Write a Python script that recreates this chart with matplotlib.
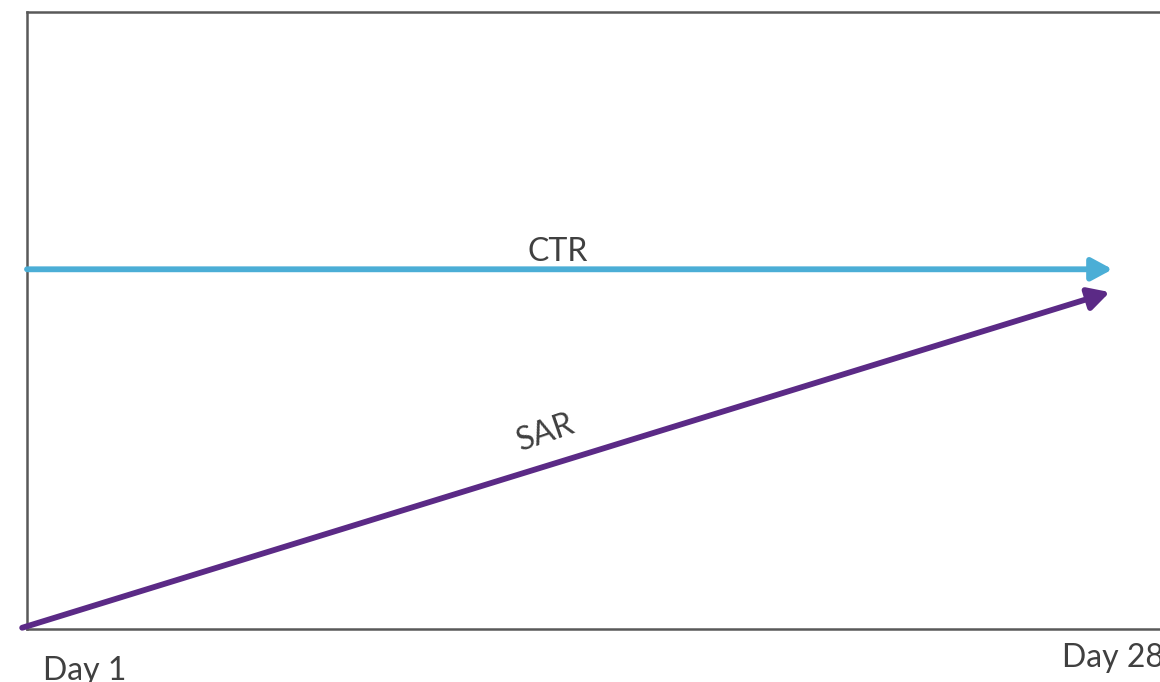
import matplotlib as mpl
mpl.rcParams['font.family'] = ['Lato', 'DejaVu Sans']
import matplotlib.pyplot as plt
import matplotlib.patheffects as pe

# data: two trend arrows over the 28 days
days        = [1, 28]
day_labels  = ['Day 1', 'Day 28']
ctr         = [0.583, 0.583]
sar_days    = [0.88, 27.93]
sar         = [0.002, 0.546]

CTR_COL  = '#4BAED6'
SAR_COL  = '#5B2A86'
TXT_COL  = '#404040'
SPINE    = '#595959'

fig = plt.figure(figsize=(11.6, 6.82), dpi=100)
# axes run past the right edge, like the cropped slide
ax = fig.add_axes([27/1160, 53/682, 1166/1160, 617/682])
ax.set_xlim(1, 30)
ax.set_ylim(0, 1)
ax.set_xticks([])
ax.set_yticks([])
ax.spines['right'].set_visible(False)
for s in ['left', 'top', 'bottom']:
    ax.spines[s].set_color(SPINE)
    ax.spines[s].set_linewidth(1.8)
    ax.spines[s].set_path_effects([
        pe.SimplePatchShadow(offset=(2, -4), shadow_rgbFace='#d4d4d4', alpha=0.5),
        pe.SimplePatchShadow(offset=(1.5, -2.5), shadow_rgbFace='#bdbdbd', alpha=0.7),
        pe.Normal()])

arrow_kw = dict(arrowstyle='-|>,head_length=0.5,head_width=0.27', lw=4.2,
                mutation_scale=25, shrinkA=0, shrinkB=0)
ax.annotate('', xy=(days[1], ctr[1]), xytext=(days[0], ctr[0]),
            arrowprops=dict(color=CTR_COL, **arrow_kw), annotation_clip=False)
ax.annotate('', xy=(sar_days[1], sar[1]), xytext=(sar_days[0], sar[0]),
            arrowprops=dict(color=SAR_COL, **arrow_kw), annotation_clip=False)

ax.text(14.2, ctr[0] + 0.004, 'CTR', fontsize=23, color=TXT_COL, ha='center', va='bottom')
ax.text(13.9, 0.318, 'SAR', fontsize=23, color=TXT_COL, ha='center', va='center', rotation=19)

ax.text(2.43, -0.044, day_labels[0], fontsize=23, color=TXT_COL, ha='center', va='top', clip_on=False)
ax.text(28.0, -0.022, day_labels[1], fontsize=23, color=TXT_COL, ha='center', va='top', clip_on=False)

fig.savefig('out.png', dpi=100)
